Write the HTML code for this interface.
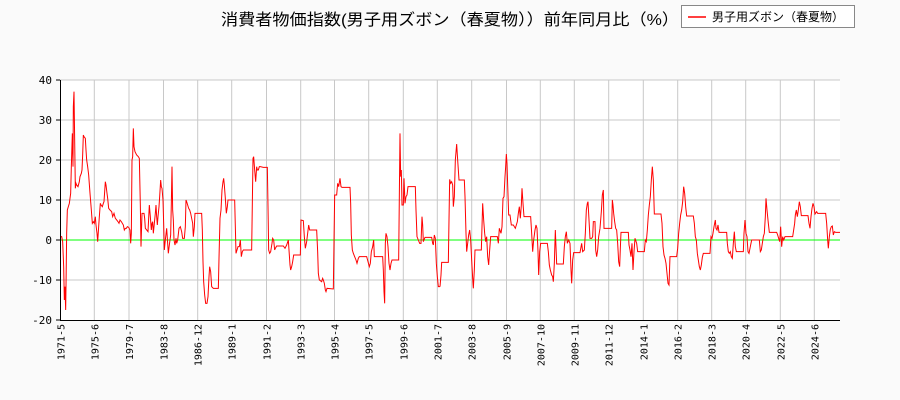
<!DOCTYPE html>
<html><head><meta charset="utf-8"><style>
body{margin:0;background:#fafafa;}
svg{display:block;font-family:"Liberation Sans","Noto Sans CJK JP",sans-serif;}
</style></head><body>
<svg width="900" height="400" xmlns="http://www.w3.org/2000/svg">
<rect width="900" height="400" fill="#fafafa"/>
<rect x="60" y="80" width="780" height="240" fill="#fff"/>
<g stroke="#c8c8c8" stroke-width="1">
<line x1="60" y1="120" x2="840" y2="120"/><line x1="60" y1="160" x2="840" y2="160"/><line x1="60" y1="200" x2="840" y2="200"/><line x1="60" y1="280" x2="840" y2="280"/><line x1="60" y1="80" x2="840" y2="80"/>
<line x1="94.3" y1="80" x2="94.3" y2="320"/><line x1="129" y1="80" x2="129" y2="320"/><line x1="163.5" y1="80" x2="163.5" y2="320"/><line x1="197.7" y1="80" x2="197.7" y2="320"/><line x1="231.7" y1="80" x2="231.7" y2="320"/><line x1="266.5" y1="80" x2="266.5" y2="320"/><line x1="300.7" y1="80" x2="300.7" y2="320"/><line x1="334.5" y1="80" x2="334.5" y2="320"/><line x1="368.7" y1="80" x2="368.7" y2="320"/><line x1="403.3" y1="80" x2="403.3" y2="320"/><line x1="437.3" y1="80" x2="437.3" y2="320"/><line x1="471.7" y1="80" x2="471.7" y2="320"/><line x1="506.5" y1="80" x2="506.5" y2="320"/><line x1="540.3" y1="80" x2="540.3" y2="320"/><line x1="574.3" y1="80" x2="574.3" y2="320"/><line x1="608.7" y1="80" x2="608.7" y2="320"/><line x1="643.3" y1="80" x2="643.3" y2="320"/><line x1="677.7" y1="80" x2="677.7" y2="320"/><line x1="711.7" y1="80" x2="711.7" y2="320"/><line x1="745.7" y1="80" x2="745.7" y2="320"/><line x1="780.3" y1="80" x2="780.3" y2="320"/><line x1="814.3" y1="80" x2="814.3" y2="320"/>
</g>
<line x1="60" y1="240" x2="840" y2="240" stroke="#00ff00" stroke-width="1"/>
<g fill="none" stroke="#ff0000" stroke-width="1">
<polyline transform="translate(40,70) scale(0.33333)" style="vector-effect:non-scaling-stroke" points="62,500 65,500 68,515 71,590 73,690 75,650 77,720 78,650 80,490 82,420 85,410 88,400 92,370 94,290 97,190 99,290 100,110 102,65 104,210 106,355 108,340 110,345 114,350 118,335 120,320 124,310 126,300 128,255 130,195 132,200 136,205 138,240 140,270 143,290 146,315 150,370 154,420 157,460 160,455 163,460 166,440 168,465 171,490 173,515 176,470 178,440 181,400 183,405 187,410 190,400 192,395 194,365 196,335 198,345 201,370 203,385 206,415 210,420 215,425 218,440 222,430 226,445 230,450 234,455 237,460 240,450 244,455 250,465 253,480 256,475 259,475 262,470 266,472 270,480 272,520 274,490 276,270 278,260 280,175 282,230 285,245 290,255 295,260 298,265 301,405 303,530 306,430 312,430 314,445 316,475 320,480 324,485 326,445 328,405 331,440 334,480 336,460 338,455 340,490 343,460 346,430 348,405 350,440 352,465 354,440 357,410 359,380 362,330 364,350 366,355 369,390 371,460 373,540 376,510 380,475 383,520 385,550 388,525 392,495 394,400 396,290 398,420 400,450 402,510 405,525 408,505 410,520 413,510 417,475 421,470 425,485 428,505 433,505 436,470 438,390 440,395 443,405 446,415 449,420 452,430 455,445 458,460 460,500 463,470 465,430 470,430 485,430 487,480 489,575 491,635 494,675 497,700 501,700 504,680 507,620 509,590 512,605 515,650 520,655 535,655 537,565 540,445 543,420 546,360 549,335 551,325 553,345 556,385 559,430 562,410 564,390 584,390 586,470 588,550 591,540 594,530 598,530 601,510 604,560 607,545 610,540 635,540 637,400 639,265 641,260 644,300 647,335 650,290 652,300 655,300 658,290 661,290 670,292 682,292 684,410 686,540 689,550 692,545 696,520 698,505 701,510 704,540 706,535 710,528 730,528 735,535 740,525 745,510 747,540 750,585 752,600 755,590 758,575 761,555 781,555 783,450 790,452 793,500 796,535 800,515 803,490 806,465 809,480 830,480 833,545 835,610 838,630 845,635 848,625 850,630 853,640 856,660 858,665 861,655 880,657 882,515 884,375 890,375 893,340 896,350 900,325 903,350 906,352 930,352 932,400 934,495 937,540 940,550 944,560 948,570 951,580 955,565 958,560 980,560 984,575 988,590 991,580 994,545 998,530 1001,510 1003,560 1028,560 1030,600 1032,665 1034,700 1036,520 1038,490 1041,500 1044,530 1047,580 1050,600 1053,580 1056,570 1076,570 1078,380 1080,190 1082,320 1084,300 1086,405 1090,405 1092,325 1095,400 1098,380 1101,375 1104,350 1126,350 1128,420 1131,500 1135,510 1139,520 1143,520 1146,440 1148,465 1150,515 1155,502 1175,502 1178,520 1180,525 1183,495 1186,505 1189,580 1192,620 1195,650 1200,650"/>
<polyline transform="translate(440,70) scale(0.33333)" style="vector-effect:non-scaling-stroke" points="0,650 3,615 5,577 25,577 27,450 29,328 32,340 35,335 38,345 40,410 43,380 46,270 50,222 52,255 55,300 57,330 73,330 75,380 78,490 80,545 83,520 86,495 89,480 92,510 95,570 98,625 100,655 103,600 105,540 124,540 126,470 128,400 131,450 134,490 137,515 140,500 143,560 146,585 149,540 152,500 172,500 175,520 178,475 183,490 186,470 189,385 192,380 195,320 197,290 199,252 201,280 203,345 206,435 210,435 214,465 220,465 226,475 232,455 235,430 238,410 241,445 244,405 246,355 249,400 252,440 272,440 275,490 278,545 281,510 285,480 288,465 291,475 294,545 296,615 299,545 302,520 322,520 325,545 328,585 331,600 335,615 338,620 340,635 343,580 346,480 350,582 370,582 373,530 376,500 379,485 382,520 386,510 390,520 393,600 395,640 398,570 401,548 420,548 425,520 428,545 433,540 436,490 439,420 442,400 444,395 447,450 450,505 455,505 458,500 460,455 465,455 467,540 470,560 473,540 476,500 480,475 484,425 487,375 490,360 492,475 515,475 517,390 519,405 521,430 524,455 527,475 530,480 533,520 536,575 539,590 541,535 543,487 565,487 567,525 570,540 573,560 576,520 579,600 582,545 585,505 590,520 593,545 613,545 616,510 619,515 622,480 625,435 628,405 631,380 634,330 637,290 640,330 643,432 663,432 666,460 669,530 672,555 675,565 678,580 681,610 684,640 687,645 690,560 710,560 713,535 716,490 719,460 722,435 725,420 728,395 731,350 734,370 737,410 740,438 760,438 763,460 766,500 769,510 772,550 775,570 778,590 781,600 784,585 787,562 790,550 810,550 813,500 816,505 819,490 822,470 826,450 828,475 831,480 834,465 837,487 860,487 862,520 865,545 868,550 871,545 874,560 877,565 880,520 883,485 886,530 889,545 910,545 912,490 915,450 918,490 921,500 924,545 927,550 930,535 935,510 958,510 961,545 964,540 967,520 970,500 973,490 976,440 978,385 981,420 985,460 988,487 1010,487 1013,495 1016,505 1019,515 1022,470 1025,530 1028,500 1031,510 1035,500 1058,500 1061,480 1064,460 1066,435 1069,420 1072,440 1075,420 1078,395 1081,410 1084,437 1104,437 1107,460 1110,475 1113,440 1116,415 1119,400 1122,410 1125,432 1130,425 1133,430 1157,430 1160,460 1163,510 1165,535 1168,500 1171,478 1174,470 1177,468 1180,495 1183,485 1187,487 1200,487"/>
</g>
<g stroke="#000" stroke-width="1">
<line x1="60.5" y1="80" x2="60.5" y2="320"/><line x1="60" y1="320.5" x2="840" y2="320.5"/>
<line x1="56" y1="80" x2="60" y2="80"/><line x1="56" y1="120" x2="60" y2="120"/><line x1="56" y1="160" x2="60" y2="160"/><line x1="56" y1="200" x2="60" y2="200"/><line x1="56" y1="240" x2="60" y2="240"/><line x1="56" y1="280" x2="60" y2="280"/><line x1="56" y1="320" x2="60" y2="320"/>
</g>
<g font-size="11" fill="#000" text-anchor="end" font-family="'DejaVu Sans Mono',monospace">
<text x="52" y="84">40</text><text x="52" y="124">30</text><text x="52" y="164">20</text><text x="52" y="204">10</text><text x="52" y="244">0</text><text x="52" y="284">-10</text><text x="52" y="324">-20</text>
</g>
<g font-size="10" fill="#000" text-anchor="end" font-family="'DejaVu Sans Mono',monospace">
<text transform="translate(64.5,324) rotate(-90)">1971-5</text>
<text transform="translate(98.3,324) rotate(-90)">1975-6</text>
<text transform="translate(133,324) rotate(-90)">1979-7</text>
<text transform="translate(167.5,324) rotate(-90)">1983-8</text>
<text transform="translate(201.7,324) rotate(-90)">1986-12</text>
<text transform="translate(235.7,324) rotate(-90)">1989-1</text>
<text transform="translate(270.5,324) rotate(-90)">1991-2</text>
<text transform="translate(304.7,324) rotate(-90)">1993-3</text>
<text transform="translate(338.5,324) rotate(-90)">1995-4</text>
<text transform="translate(372.7,324) rotate(-90)">1997-5</text>
<text transform="translate(407.3,324) rotate(-90)">1999-6</text>
<text transform="translate(441.3,324) rotate(-90)">2001-7</text>
<text transform="translate(475.7,324) rotate(-90)">2003-8</text>
<text transform="translate(510.5,324) rotate(-90)">2005-9</text>
<text transform="translate(544.3,324) rotate(-90)">2007-10</text>
<text transform="translate(578.3,324) rotate(-90)">2009-11</text>
<text transform="translate(612.7,324) rotate(-90)">2011-12</text>
<text transform="translate(647.3,324) rotate(-90)">2014-1</text>
<text transform="translate(681.7,324) rotate(-90)">2016-2</text>
<text transform="translate(715.7,324) rotate(-90)">2018-3</text>
<text transform="translate(749.7,324) rotate(-90)">2020-4</text>
<text transform="translate(784.3,324) rotate(-90)">2022-5</text>
<text transform="translate(818.3,324) rotate(-90)">2024-6</text>
</g>
<text x="450" y="25" font-size="16" text-anchor="middle" fill="#000" textLength="458" lengthAdjust="spacingAndGlyphs">消費者物価指数(男子用ズボン（春夏物））前年同月比（%）</text>
<rect x="681.5" y="5.5" width="173" height="22" fill="#fff" stroke="#888"/>
<line x1="688" y1="17" x2="706" y2="17" stroke="#f00" stroke-width="1.5"/>
<text x="712" y="21" font-size="12" fill="#000">男子用ズボン（春夏物）</text>
</svg>
</body></html>
